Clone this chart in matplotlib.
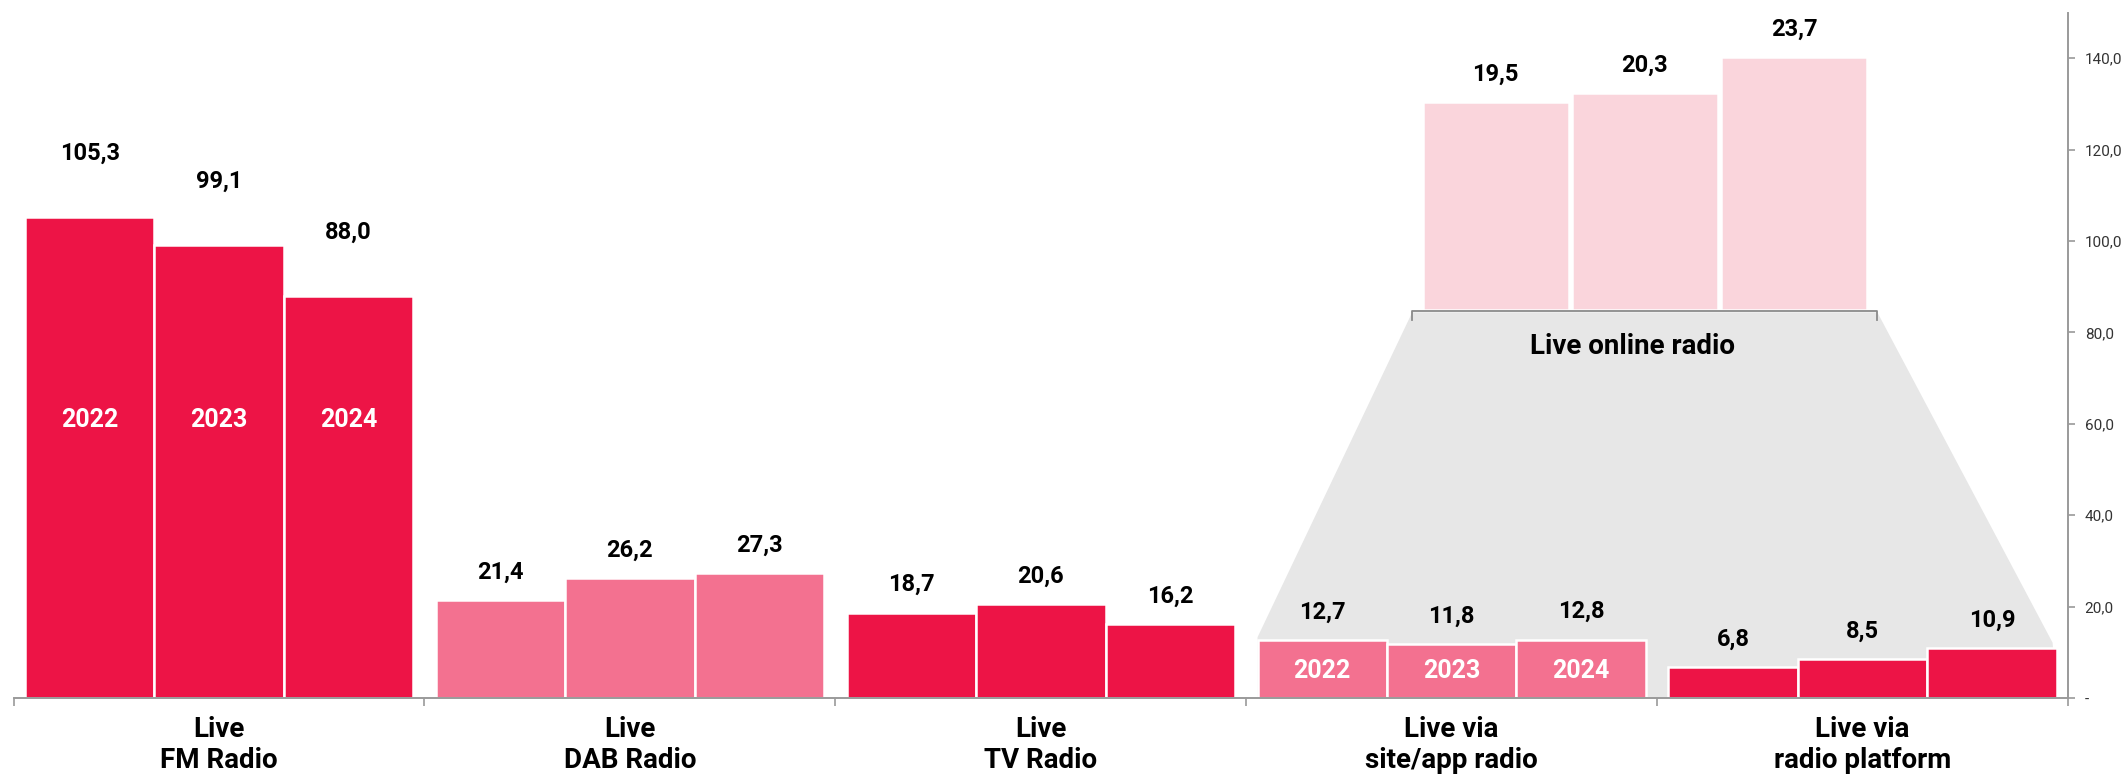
import numpy as np
import matplotlib
matplotlib.use("Agg")
import matplotlib.pyplot as plt
from matplotlib.patches import Polygon

# ── Data ──────────────────────────────────────────────────────────────────
categories = ["Live\nFM Radio", "Live\nDAB Radio", "Live\nTV Radio",
              "Live via\nsite/app radio", "Live via\nradio platform"]
years = ["2022", "2023", "2024"]
values_2022 = [105.3, 21.4, 18.7, 12.7, 6.8]
values_2023 = [99.1, 26.2, 20.6, 11.8, 8.5]
values_2024 = [88.0, 27.3, 16.2, 12.8, 10.9]
online_label = "Live online radio"
online_values = [19.5, 20.3, 23.7]
yticks = [0, 20, 40, 60, 80, 100, 120, 140]

# ── Style ─────────────────────────────────────────────────────────────────
RED = "#ED1446"
PINK = "#F37190"
LIGHT = "#FAD5DC"
GREY_BG = "#E7E7E7"
AXIS = "#9A9A9A"
group_colors = [RED, PINK, RED, PINK, RED]
label_offsets = [46, 20, 20, 20, 20]      # points above bar top
year_label_y = {0: 60.8, 3: 5.9}          # groups carrying year labels
ONLINE_BASE, ONLINE_SCALE = 85, 2.33      # inset placement of online bars
ONLINE_CENTER, ONLINE_PITCH, ONLINE_W = 3.47, 0.363, 0.356
BAR_PITCH, BAR_W = 0.315, 0.315

plt.rcParams["font.family"] = ["Roboto", "DejaVu Sans"]

fig = plt.figure(figsize=(21.26, 7.81), dpi=100)
ax = fig.add_axes([13.6 / 2126, 83 / 781, (2068 - 13.6) / 2126, (698 - 12.5) / 781])

def fmt(v):
    return f"{v:.1f}".replace(".", ",")

x = np.arange(len(categories))
series = [values_2022, values_2023, values_2024]

# grey "zoom" funnel from the online group down to the two online sub-groups
left_x = x[3] - BAR_PITCH - BAR_W / 2
right_x = x[4] + BAR_PITCH + BAR_W / 2
br_l = ONLINE_CENTER - ONLINE_PITCH - ONLINE_W / 2 - 0.025
br_r = ONLINE_CENTER + ONLINE_PITCH + ONLINE_W / 2 + 0.025
funnel = Polygon([(br_l, ONLINE_BASE - 0.6), (br_r, ONLINE_BASE - 0.6),
                  (right_x - 0.01, values_2024[4] + 1.2), (right_x, 0),
                  (left_x, 0), (left_x, values_2022[3] + 0.6)],
                 closed=True, facecolor=GREY_BG, edgecolor="none", zorder=1)
ax.add_patch(funnel)

# main bars
for j, vals in enumerate(series):
    xs = x + (j - 1) * BAR_PITCH
    bars = ax.bar(xs, vals, BAR_W, color=group_colors, edgecolor="white",
                  linewidth=1.8, zorder=2)
    for i, (b, v) in enumerate(zip(bars, vals)):
        ax.annotate(fmt(v), (b.get_x() + b.get_width() / 2, v),
                    xytext=(0, label_offsets[i]), textcoords="offset points",
                    ha="center", va="center", fontsize=17, fontweight="bold",
                    color="black", zorder=4)
        if i in year_label_y:
            ax.text(b.get_x() + b.get_width() / 2, year_label_y[i], years[j],
                    ha="center", va="center", fontsize=18, fontweight="bold",
                    color="white", zorder=4)

# online radio inset bars
ox = ONLINE_CENTER + (np.arange(len(online_values)) - 1) * ONLINE_PITCH
obars = ax.bar(ox, np.array(online_values) * ONLINE_SCALE, ONLINE_W,
               bottom=ONLINE_BASE, color=LIGHT, edgecolor="white",
               linewidth=1.8, zorder=2)
for b, v in zip(obars, online_values):
    ax.annotate(fmt(v), (b.get_x() + b.get_width() / 2, b.get_y() + b.get_height()),
                xytext=(0, 20), textcoords="offset points", ha="center",
                va="center", fontsize=17, fontweight="bold", color="black")

# bracket under the online bars
ax.plot([br_l, br_l, br_r, br_r],
        [ONLINE_BASE - 2.2, ONLINE_BASE - 0.3, ONLINE_BASE - 0.3, ONLINE_BASE - 2.2],
        color="#8A8A8A", lw=1.3, zorder=3)
ax.text(ONLINE_CENTER - 0.03, 77, online_label, ha="center", va="center",
        fontsize=20, fontweight="bold", color="black", zorder=4)

# axes
ax.set_xlim(-0.5, 4.5)
ax.set_ylim(0, 150)
ax.spines[["top", "left"]].set_visible(False)
for s in ("right", "bottom"):
    ax.spines[s].set_color(AXIS)
    ax.spines[s].set_linewidth(1.4)

ax.yaxis.tick_right()
ax.set_yticks(yticks)
ax.set_yticklabels(["-" if t == 0 else f"{t},0" for t in yticks])
ax.tick_params(axis="y", direction="out", length=5, width=1.2, color=AXIS,
               pad=7, labelsize=11, labelcolor="#333333")

ax.set_xticks(x)
ax.set_xticklabels(categories, fontsize=20, fontweight="bold")
ax.tick_params(axis="x", length=0, pad=13)
ax.set_xticks(np.arange(-0.5, 5, 1.0), minor=True)
ax.tick_params(axis="x", which="minor", direction="out", length=6,
               width=1.2, color=AXIS)

fig.savefig("out.png", dpi=100)
